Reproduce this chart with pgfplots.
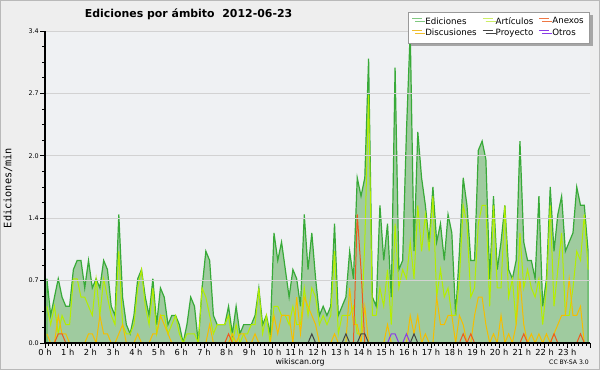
\documentclass[border=0pt]{standalone}
\usepackage{fontspec}
\setmainfont{DejaVu Sans}
\newfontfamily\monofont{DejaVu Sans Mono}
\usepackage{pgfplots}
\pgfplotsset{compat=1.18}
\usepackage{pgfplotstable}
\usetikzlibrary{shadows}
\definecolor{bgcol}{HTML}{EEEEEE}
\definecolor{plotbg}{HTML}{EFF1F3}
\definecolor{edline}{HTML}{38AA38}
\definecolor{edfill}{HTML}{9FCB9F}
\definecolor{edleg}{HTML}{80C880}
\definecolor{arline}{HTML}{B4EE00}
\definecolor{arleg}{HTML}{CCEE66}
\definecolor{anline}{HTML}{EE5A1E}
\definecolor{anleg}{HTML}{EE7744}
\definecolor{diline}{HTML}{F5BE00}
\definecolor{dileg}{HTML}{F0C030}
\definecolor{prline}{HTML}{444444}
\definecolor{otline}{HTML}{8A3CE6}

\pgfplotstableread{
i ed ar an di pr ot
0 0.7 0.4 0 0.1 0 0
1 0.3 0.2 0 0 0 0
2 0.5 0.4 0 0 0 0
3 0.7 0.1 0.1 0.3 0 0
4 0.5 0.3 0.1 0.1 0 0
5 0.4 0.2 0 0.1 0 0
6 0.4 0.2 0 0 0 0
7 0.8 0.7 0 0 0 0
8 0.9 0.7 0 0 0 0
9 0.9 0.5 0 0 0 0
10 0.6 0.5 0 0 0 0
11 0.9 0.4 0 0.1 0 0
12 0.6 0.3 0 0.1 0 0
13 0.7 0.7 0 0 0 0
14 0.6 0.3 0 0.3 0 0
15 0.9 0.7 0 0.1 0 0
16 0.8 0.5 0 0.1 0 0
17 0.4 0.3 0 0 0 0
18 0.3 0.2 0 0 0 0
19 1.4 1.0 0 0.1 0 0
20 0.5 0.2 0 0.2 0 0
21 0.2 0.1 0 0 0 0
22 0.1 0.1 0 0 0 0
23 0.3 0.2 0 0 0 0
24 0.7 0.6 0 0.1 0 0
25 0.8 0.8 0 0 0 0
26 0.5 0.4 0 0 0 0
27 0.3 0.2 0 0 0 0
28 0.7 0.6 0 0.1 0 0
29 0.2 0.1 0 0.1 0 0
30 0.6 0.3 0 0.3 0 0
31 0.5 0.3 0 0.2 0 0
32 0.2 0.1 0 0.1 0 0
33 0.3 0.2 0 0 0 0
34 0.3 0.3 0 0 0 0
35 0.2 0.1 0 0 0 0
36 0.0 0 0 0 0 0
37 0.2 0.1 0 0 0 0
38 0.5 0.1 0 0 0 0
39 0.4 0.1 0 0 0 0
40 0.0 0 0 0 0 0
41 0.6 0.6 0 0 0 0
42 1.0 0.5 0 0 0 0
43 0.9 0.3 0 0.2 0 0
44 0.3 0.1 0 0 0 0
45 0.2 0.2 0 0 0 0
46 0.2 0.2 0 0 0 0
47 0.2 0.2 0 0 0 0
48 0.4 0.3 0.1 0 0 0
49 0.1 0 0 0.1 0 0
50 0.4 0.2 0 0 0 0
51 0.1 0 0 0.1 0 0
52 0.2 0.1 0 0.1 0 0
53 0.2 0.1 0 0 0 0
54 0.2 0.2 0 0 0 0
55 0.3 0.2 0 0.1 0 0
56 0.6 0.6 0 0 0 0
57 0.2 0.1 0 0 0 0
58 0.3 0.3 0 0 0 0
59 0.1 0 0 0 0 0
60 1.2 0.4 0 0.3 0 0
61 0.9 0.4 0 0.1 0 0
62 1.1 0.3 0 0.3 0 0
63 0.8 0.3 0 0.3 0 0
64 0.5 0.2 0 0.3 0 0
65 0.8 0.4 0 0 0 0
66 0.7 0.2 0 0.5 0 0
67 0.4 0.2 0 0.1 0 0
68 1.4 0.6 0 0.5 0 0
69 0.8 0.3 0 0.4 0 0
70 1.2 0.6 0 0.3 0.1 0
71 0.7 0.5 0 0.2 0 0
72 0.3 0.2 0 0 0 0
73 0.4 0.3 0 0 0 0
74 0.3 0.2 0 0 0 0
75 0.4 0.3 0 0 0 0
76 1.3 1.0 0 0.1 0 0
77 0.3 0.1 0 0 0 0
78 0.4 0.3 0 0 0 0
79 0.5 0.3 0 0 0.1 0
80 1.0 0.3 0 0.6 0 0
81 0.7 0.4 0 0.2 0 0
82 1.8 0.1 1.4 0.2 0 0
83 1.6 0.1 0.8 0 0.1 0
84 1.8 1.1 0 0.4 0.1 0
85 3.1 2.7 0 0 0 0
86 0.5 0.3 0 0 0 0
87 0.4 0.3 0 0 0 0
88 1.5 0.6 0 0 0 0
89 0.9 0.4 0 0 0 0
90 1.3 0.8 0 0.2 0 0
91 0.5 0.2 0 0 0 0.1
92 3.0 1.3 0 0 0 0.1
93 0.8 0.6 0 0 0 0
94 0.9 0.8 0 0 0 0
95 2.3 0.7 0 0 0 0.1
96 3.4 1.1 0 0.3 0 0
97 1.0 0.7 0 0.1 0.1 0
98 2.3 1.5 0 0.3 0 0
99 1.8 1.0 0 0 0 0
100 1.5 1.4 0 0.1 0 0
101 1.1 1.0 0 0 0 0
102 1.7 1.6 0 0 0 0
103 1.1 0.5 0 0.5 0 0
104 1.3 0.8 0 0.2 0 0
105 0.9 0.5 0 0.2 0 0
106 1.4 0.6 0 0.3 0 0
107 1.2 0.3 0 0.3 0 0
108 0.3 0.3 0 0 0 0
109 1.0 0.7 0 0.3 0 0
110 1.8 1.5 0.1 0.2 0 0
111 1.5 1.3 0 0 0 0
112 0.9 0.5 0.1 0 0 0
113 0.9 0.6 0 0.3 0 0
114 2.1 1.3 0 0.5 0 0
115 2.2 1.5 0 0.5 0 0
116 2.0 1.5 0 0.2 0 0
117 0.7 0.4 0 0 0 0
118 1.6 1.5 0 0.1 0 0
119 0.8 0.6 0 0 0 0
120 1.1 0.6 0 0.3 0 0
121 1.5 1.5 0 0 0 0
122 0.8 0.5 0 0.1 0 0
123 0.7 0.7 0 0 0 0
124 0.9 0.2 0 0.2 0 0
125 2.2 1.2 0 0.7 0 0
126 1.1 0.6 0.1 0.2 0 0
127 0.9 0.8 0 0 0 0
128 0.9 0.6 0 0.1 0 0
129 0.7 0.5 0 0 0 0
130 1.6 0.7 0 0.1 0 0
131 0.4 0.2 0 0 0 0
132 0.7 0.6 0 0.1 0 0
133 1.7 1.5 0 0 0 0
134 1.0 0.4 0.1 0.1 0 0
135 1.4 0.8 0 0.2 0 0
136 1.6 1.2 0 0.3 0 0
137 1.0 0.3 0 0.3 0 0
138 1.1 0.3 0 0.7 0 0
139 1.2 0.6 0 0.3 0 0
140 1.7 1.0 0 0.3 0 0
141 1.5 0.9 0.1 0.4 0 0
142 1.5 1.4 0 0 0 0
143 1.0 0.8 0 0 0 0
}\datatable

\begin{document}
\begin{tikzpicture}
\useasboundingbox (0,0) rectangle (450pt,277.5pt);
\fill[bgcol] (0,0) rectangle (450pt,277.5pt);
\draw[gray!55, line width=0.75pt] (0.375pt,0.375pt) rectangle (449.625pt,277.125pt);
\begin{axis}[
  at={(33.75pt,20.25pt)}, anchor=south west,
  scale only axis, width=408.75pt, height=234pt,
  xmin=0, xmax=24, ymin=0, ymax=3.4,
  axis x line*=bottom, axis y line*=left,
  axis line style={black, line width=0.8pt, -},
  xtick={0,...,24},
  xticklabels={0 h,1 h,2 h,3 h,4 h,5 h,6 h,7 h,8 h,9 h,10 h,11 h,12 h,13 h,14 h,15 h,16 h,17 h,18 h,19 h,20 h,21 h,22 h,23 h,},
  minor x tick num=5,
  ytick={0,0.68,1.36,2.04,2.72,3.4},
  yticklabels={0.0,0.7,1.4,2.0,2.7,3.4},
  minor y tick num=3,
  tick align=outside, major tick length=3.5pt, minor tick length=2.2pt,
  tick style={black, line width=0.6pt},
  ymajorgrids, major grid style={gray!35, line width=0.6pt},
  x tick label style={font=\fontsize{6.2}{7}\selectfont, inner sep=1pt},
  y tick label style={font=\fontsize{4.8}{5}\selectfont, inner sep=1pt},
  axis background/.style={fill=plotbg},
  axis on top,
  legend columns=3,
  legend cell align=left,
  legend image code/.code={\draw[#1, line width=0.7pt] (0pt,2.3pt) -- (7.5pt,2.3pt);},
  legend style={at={(1.0,1.061)}, anchor=north east,
    font=\fontsize{6.5}{7.2}\selectfont, draw=gray!80, fill=white, line width=0.5pt,
    inner xsep=2.5pt, inner ysep=1.8pt, row sep=-1.8pt,
    /tikz/every even column/.append style={column sep=2pt},
    drop shadow={shadow xshift=2.25pt, shadow yshift=-2.25pt, fill=gray!70, opacity=1}},
]
\addplot[forget plot, fill=edfill, draw=edline, line width=0.9pt] table[x expr=(\thisrow{i}+0.5)/6, y=ed] {\datatable} \closedcycle;
\addplot[forget plot, draw=arline, line width=0.75pt] table[x expr=(\thisrow{i}+0.5)/6, y=ar] {\datatable};
\addplot[forget plot, draw=diline, line width=0.75pt] table[x expr=(\thisrow{i}+0.5)/6, y=di] {\datatable};
\addplot[forget plot, draw=anline, line width=0.75pt] table[x expr=(\thisrow{i}+0.5)/6, y=an] {\datatable};
\addplot[forget plot, draw=prline, line width=0.75pt] table[x expr=(\thisrow{i}+0.5)/6, y=pr] {\datatable};
\addplot[forget plot, draw=otline, line width=0.75pt] table[x expr=(\thisrow{i}+0.5)/6, y=ot] {\datatable};
\addlegendimage{edleg}\addlegendentry{Ediciones}
\addlegendimage{arleg}\addlegendentry{Artículos}
\addlegendimage{anleg}\addlegendentry{Anexos}
\addlegendimage{dileg}\addlegendentry{Discusiones}
\addlegendimage{prline}\addlegendentry{Proyecto}
\addlegendimage{otline}\addlegendentry{Otros}
\end{axis}
\node[font=\bfseries\fontsize{8.2}{9}\selectfont] at (141.4pt,267pt) {Ediciones por ámbito\ \ 2012-06-23};
\node[font=\monofont\fontsize{7.7}{8}\selectfont, rotate=90] at (6pt,136.5pt) {Ediciones/min};
\node[font=\fontsize{5.9}{6}\selectfont] at (225pt,6pt) {wikiscan.org};
\node[font=\fontsize{4.6}{5}\selectfont] at (426.75pt,5.5pt) {CC BY-SA 3.0};
\end{tikzpicture}
\end{document}
